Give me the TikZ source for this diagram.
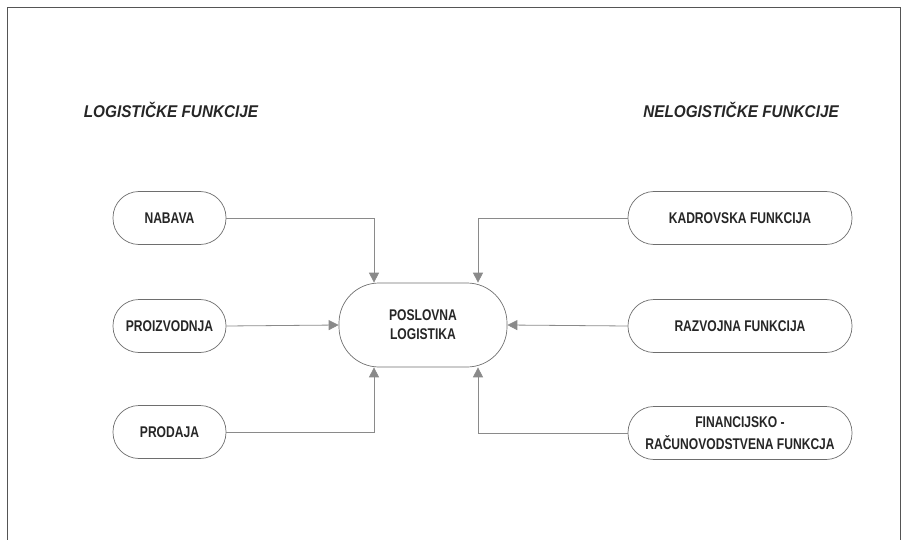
\documentclass[tikz,border=0pt]{standalone}
\usepackage{fontspec}
\setmainfont{Liberation Sans}
\newfontfamily\condbox[FakeStretch=0.78]{Liberation Sans}
\newfontfamily\condttl[FakeStretch=0.9]{Liberation Sans}
\usetikzlibrary{arrows.meta}
\definecolor{txt}{HTML}{262626}
\definecolor{lin}{HTML}{6E6E6E}
\definecolor{arr}{HTML}{8A8A8A}
\definecolor{frm}{HTML}{555555}
\tikzset{
  fbox/.style={draw=lin, line width=0.7pt, rounded corners=26pt, minimum height=53pt,
    inner sep=2pt, text=txt, font=\condbox\fontsize{15.5}{21.5}\selectfont\bfseries, align=center},
  lbox/.style={fbox, minimum width=113pt},
  rbox/.style={fbox, minimum width=224pt},
  cbox/.style={draw=lin, line width=0.7pt, rounded corners=40pt, minimum width=168pt,
    minimum height=84pt, text=txt, font=\condbox\fontsize{15.5}{19}\selectfont\bfseries, align=center},
  ttl/.style={text=txt, font=\condttl\fontsize{17}{20}\selectfont\bfseries\itshape},
  conn/.style={draw=arr, line width=0.8pt, -{Triangle[length=10pt,width=10pt,fill=arr]}}
}
\begin{document}
\begin{tikzpicture}[x=1pt,y=-1pt]
\useasboundingbox (0,0) rectangle (902,540);
% frame
\draw[frm, line width=1pt] (7,548) -- (7,8) -- (900,8) -- (900,548);
% titles
\node[ttl] (tl) at (171,110) {LOGISTIČKE FUNKCIJE};
\node[ttl] (tr) at (741,110) {NELOGISTIČKE FUNKCIJE};
% nodes
\node[lbox] (nab) at (169.5,218) {NABAVA};
\node[lbox] (pro) at (169.5,326) {PROIZVODNJA};
\node[lbox] (prd) at (169.5,432) {PRODAJA};
\node[rbox] (kad) at (740,218) {KADROVSKA FUNKCIJA};
\node[rbox] (raz) at (740,326) {RAZVOJNA FUNKCIJA};
\node[rbox] (fin) at (740,433) {FINANCIJSKO -\\RAČUNOVODSTVENA FUNKCJA};
\node[cbox] (pl) at (423,325) {POSLOVNA\\LOGISTIKA};
% arrow targets
\coordinate (tnw) at ([xshift=-49pt]pl.north);
\coordinate (tne) at ([xshift=55pt]pl.north);
\coordinate (tsw) at ([xshift=-49pt]pl.south);
\coordinate (tse) at ([xshift=55pt]pl.south);
% connectors
\draw[conn] (nab.east) -| (tnw);
\draw[conn] (pro.east) -- (pl.west);
\draw[conn] (prd.east) -| (tsw);
\draw[conn] (kad.west) -| (tne);
\draw[conn] (raz.west) -- (pl.east);
\draw[conn] (fin.west) -| (tse);
\end{tikzpicture}
\end{document}
